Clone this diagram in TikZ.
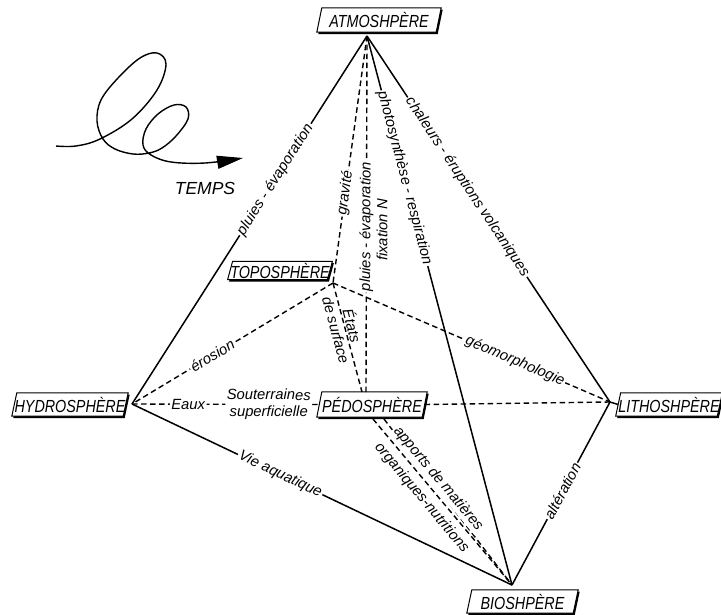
\documentclass[tikz,border=0pt]{standalone}
\usepackage{fontspec}
\setmainfont{Liberation Sans}
\newfontfamily\boxfont{Liberation Sans}[FakeStretch=0.82]
\usetikzlibrary{calc,arrows.meta}
\pgfdeclarelayer{bg}
\pgfsetlayers{bg,main}
\newcommand\spherebox[1]{%
  \begin{pgfonlayer}{bg}
    \fill ($(#1.south west)+(-1pt,-1.8pt)$) -- ($(#1.south east)+(-1pt,-1.8pt)$) -- ($(#1.north east)+(4pt,-1.8pt)$) -- ($(#1.north west)+(4pt,-1.8pt)$) -- cycle;
    \filldraw[fill=white, line width=1pt] ($(#1.south west)+(-2.5pt,0pt)$) -- ($(#1.south east)+(-2.5pt,0pt)$) -- ($(#1.north east)+(2.5pt,0pt)$) -- ($(#1.north west)+(2.5pt,0pt)$) -- cycle;
  \end{pgfonlayer}}
\begin{document}
\begin{tikzpicture}[x=1pt,y=-1pt,
  sphere/.style={font=\boxfont\itshape\fontsize{17.5}{17.5}\selectfont, inner sep=0pt},
  lbltext/.style={font=\itshape\fontsize{14.8}{16.5}\selectfont},
  lbl/.style={lbltext, fill=white, inner sep=1.5pt, sloped},
  conn/.style={line width=1.5pt},
  dconn/.style={line width=1.4pt, dash pattern=on 5.5pt off 3.5pt},
]
\useasboundingbox (0,0) rectangle (721,614);

% sphere boxes
\node[sphere, minimum width=119pt, minimum height=24pt] (atm) at (379,20) {ATMOSHPÈRE};
\node[sphere, minimum width=99pt, minimum height=18pt] (topo) at (280,270.5) {TOPOSPHÈRE};
\node[sphere, minimum width=105pt, minimum height=25pt] (pedo) at (372,404.5) {PÉDOSPHÈRE};
\node[sphere, minimum width=111pt, minimum height=23pt] (hydro) at (70,404.5) {HYDROSPHÈRE};
\node[sphere, minimum width=99pt, minimum height=23pt] (litho) at (669,404.5) {LITHOSHPÈRE};
\node[sphere, minimum width=106pt, minimum height=23pt] (bio) at (522.5,601.5) {BIOSHPÈRE};
\spherebox{atm}
\spherebox{topo}
\spherebox{pedo}
\spherebox{hydro}
\spherebox{litho}
\spherebox{bio}

% vertices
\coordinate (vA) at (367,36);
\coordinate (vT) at (333,283);
\coordinate (vH) at (132,404);
\coordinate (vL) at (610,402);
\coordinate (vB) at (512,585);
\coordinate (vPt) at (366,392);
\coordinate (vPt2) at (362,392);
\coordinate (vPb) at (373,419);
\coordinate (vPb2) at (384,419);

% connectors
\draw[conn] (vA) -- node[lbl,pos=0.39]{pluies - évaporation} (vH);
\draw[dconn] (vA) -- node[lbl,pos=0.636]{gravité} (vT);
\draw[dconn] (vPt) -- node[lbl,pos=0.465]{pluies - évaporation} (vA);
\node[lbltext, rotate=90] (fix) at (382,230) {fixation N};
\draw[conn] (vA) -- node[lbl,pos=0.259]{photosynthèse - respiration} (vB);
\draw[conn] (vA) -- node[lbl,pos=0.413]{chaleurs - éruptions volcaniques} (vL);
\draw[dconn] (vT) -- node[lbl,pos=0.6]{érosion} (vH);
\draw[dconn] (vT) -- node[lbl,pos=0.657]{géomorphologie} (vL);
\draw[dconn] (vT) -- node[lbltext,sloped,pos=0.41,align=center]{États\\de surface} (vPt2);
\draw[dconn] (vH) -- node[lbl,pos=0.30]{Eaux} node[lbl,pos=0.73,align=center]{Souterraines\\superficielle} (pedo.west);
\draw[dconn] (pedo.east) -- (vL);
\draw[conn] (vL) -- (litho.west);
\draw[dconn] (vPb2) -- (vB);
\draw[dconn] (vPb) -- node[lbl,pos=0.405,above=2.5pt]{apports de matières} node[lbltext,sloped,pos=0.424,below=2.5pt]{organiques-nutritions} (vB);
\draw[conn] (vH) -- node[lbl,pos=0.39]{Vie aquatique} (vB);
\draw[conn] (vL) -- node[lbl,pos=0.486]{altération} (vB);

% time spiral
\draw[line width=1.4pt, -{Triangle[length=26pt,width=13pt]}] plot[smooth, tension=0.6] coordinates {
 (56,146) (76,146) (100,139) (132,119) (157,90) (166,64) (157,53) (140,58) (118,78) (101,100) (97,121) (103,139) (115,149) (133,154) (149,153) (162,148) (176,136) (188,119) (186,107) (174,105) (158,114) (146,129) (143,145) (151,155) (171,162) (205,163) (243,158)};
\node[font=\itshape\fontsize{17.5}{18}\selectfont] (temps) at (205,188) {TEMPS};
\end{tikzpicture}
\end{document}
